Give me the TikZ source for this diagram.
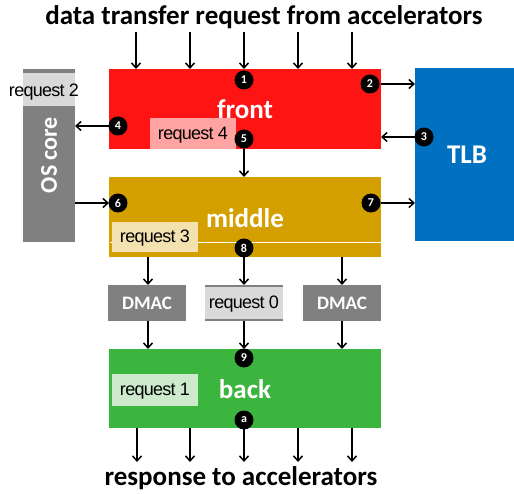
\documentclass[tikz,border=0pt]{standalone}
\usepackage{fontspec}
\setmainfont{Carlito}
\newfontfamily\reqfont[LetterSpace=-4]{Liberation Sans}
\usetikzlibrary{arrows.meta}
\definecolor{cfront}{HTML}{FF1414}
\definecolor{cmid}{HTML}{D4A000}
\definecolor{cback}{HTML}{3BB53D}
\definecolor{ctlb}{HTML}{0070C0}
\definecolor{cgray}{HTML}{808080}
\definecolor{creq4}{HTML}{FFA3A3}
\definecolor{creq3}{HTML}{F3E2B0}
\definecolor{creq1}{HTML}{CDEACD}
\definecolor{creqg}{HTML}{D9D9D9}
\begin{document}
\begin{tikzpicture}[x=1pt,y=-1pt,
  blk/.style={draw=none,inner sep=0pt,anchor=north west,text=white,font=\bfseries},
  reqbox/.style={inner sep=0pt,anchor=north west},
  reqtxt/.style={font=\reqfont\fontsize{18}{18}\selectfont,text=black},
  lbl/.style={text=white,font=\bfseries\fontsize{27}{27}\selectfont},
  badge/.style={circle,fill=black,text=white,inner sep=0pt,minimum size=19pt,font=\bfseries\fontsize{12}{12}\selectfont},
  arr/.style={line width=1.5pt,-{Straight Barb[length=5pt,width=9pt,line width=1.5pt]}},
  big/.style={font=\bfseries\fontsize{27}{27}\selectfont}]
\useasboundingbox (0,0) rectangle (514,494);
% blocks
\node[blk,fill=cfront,minimum width=272pt,minimum height=80pt] (front) at (109,69) {};
\node[blk,fill=cmid,minimum width=272pt,minimum height=80pt] (middle) at (109,177) {};
\node[blk,fill=cback,minimum width=272pt,minimum height=79pt] (back) at (109,349) {};
\node[blk,fill=ctlb,minimum width=99pt,minimum height=173pt] (tlb) at (415,68) {};
\node[blk,fill=cgray,minimum width=52pt,minimum height=173pt] (os) at (23,69) {};
\node[blk,fill=cgray,minimum width=78pt,minimum height=36pt] (dmac1) at (108,285) {};
\node[blk,fill=cgray,minimum width=78pt,minimum height=36pt] (dmac2) at (205,285) {};
\node[blk,fill=cgray,minimum width=78pt,minimum height=36pt] (dmac3) at (303,285) {};
% block labels
\node[lbl] (tfront) at (245,109) {front};
\node[lbl] (tmid) at (245,218) {middle};
\node[lbl] (tback) at (245,389) {back};
\node[lbl] (ttlb) at (467,155) {TLB};
\node[text=white,font=\bfseries\fontsize{24}{24}\selectfont,rotate=90] (tos) at (49,155) {OS core};
\node[text=white,font=\bfseries\fontsize{19}{19}\selectfont] (td1) at (147,303) {DMAC};
\node[text=white,font=\bfseries\fontsize{19}{19}\selectfont] (td3) at (342,303) {DMAC};
% white line in middle
\draw[white,line width=0.8pt] (110,242) -- (381,242);
% request boxes
\node[reqbox,fill=creqg,minimum width=52pt,minimum height=33pt] (r2box) at (23,73) {};
\node[reqtxt] (r2) at (44,92) {request 2};
\node[reqbox,fill=creq4,minimum width=86pt,minimum height=31pt] (r4box) at (150,118) {};
\node[reqtxt] (r4) at (193,135) {request 4};
\node[reqbox,fill=creq3,minimum width=86pt,minimum height=30pt] (r3box) at (112,222) {};
\node[reqtxt] (r3) at (155,238) {request 3};
\node[reqbox,fill=creqg,minimum width=78pt,minimum height=32pt] (r0box) at (205,287) {};
\node[reqtxt] (r0) at (244,304) {request 0};
\node[reqbox,fill=creq1,minimum width=86pt,minimum height=32pt] (r1box) at (112,374) {};
\node[reqtxt] (r1) at (155,391) {request 1};
% titles
\node[big] (title) at (264,17) {data transfer request from accelerators};
\node[big] (resp) at (241,478) {response to accelerators};
% top arrows
\foreach \x/\n in {136/1,190/2,244/3,298/4,352/5}{
  \coordinate (ti\n) at (\x,32);
  \coordinate (to\n) at (\x,69);
  \draw[arr] (ti\n) -- (to\n);
}
% bottom arrows
\foreach \x/\n in {137/1,190/2,244/3,298/4,352/5}{
  \coordinate (bi\n) at (\x,428);
  \coordinate (bo\n) at (\x,462);
  \draw[arr] (bi\n) -- (bo\n);
}
% connectors
\coordinate (f2) at (381,84); \coordinate (t2) at (415,84);
\draw[arr] (f2) -- (t2);
\coordinate (t3) at (415,137); \coordinate (f3) at (381,137);
\draw[arr] (t3) -- (f3);
\coordinate (f4) at (109,126); \coordinate (o4) at (75,126);
\draw[arr] (f4) -- (o4);
\coordinate (f5) at (244,149); \coordinate (m5) at (244,177);
\draw[arr] (f5) -- (m5);
\coordinate (o6) at (75,203); \coordinate (m6) at (109,203);
\draw[arr] (o6) -- (m6);
\coordinate (m7) at (381,203); \coordinate (t7) at (415,203);
\draw[arr] (m7) -- (t7);
\foreach \x/\n in {148/1,244/2,342/3}{
  \coordinate (ma\n) at (\x,257);
  \coordinate (da\n) at (\x,285);
  \coordinate (db\n) at (\x,321);
  \coordinate (bb\n) at (\x,349);
  \draw[arr] (ma\n) -- (da\n);
  \draw[arr] (db\n) -- (bb\n);
}
% badges
\node[badge] (b1) at (244,80) {1};
\node[badge] (b2) at (370,84) {2};
\node[badge] (b3) at (424,137) {3};
\node[badge] (b4) at (118,126) {4};
\node[badge] (b5) at (244,139) {5};
\node[badge] (b6) at (118,203) {6};
\node[badge] (b7) at (371,203) {7};
\node[badge] (b8) at (244,248) {8};
\node[badge] (b9) at (244,358) {9};
\node[badge] (ba) at (244,420) {a};
\end{tikzpicture}
\end{document}
